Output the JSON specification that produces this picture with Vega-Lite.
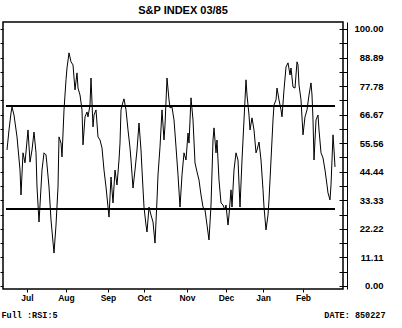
{
  "$schema": "https://vega.github.io/schema/vega-lite/v6.json",
  "width": 340,
  "height": 267,
  "autosize": "none",
  "padding": {"left": 3, "top": 22, "right": 59, "bottom": 39},
  "background": "white",
  "title": {"text": "S&P INDEX  03/85", "anchor": "middle", "dx": 10, "offset": 6, "fontSize": 11, "fontWeight": "bold", "font": "Liberation Sans", "color": "black"},
  "config": {
    "view": {"stroke": "black", "strokeWidth": 1.5},
    "axis": {"grid": false, "domainColor": "black", "tickColor": "black", "labelColor": "black", "titleColor": "black", "labelFont": "Liberation Sans", "titleFont": "Liberation Mono", "labelFontWeight": "bold", "titleFontWeight": "bold"}
  },
  "datasets": {
    "rsi": [
      {"day":0,"rsi":52.9},{"day":1,"rsi":60.7},{"day":2,"rsi":67.3},{"day":2.5,"rsi":69.6},{"day":3.5,"rsi":66.5},{"day":5,"rsi":58.0},{"day":6.5,"rsi":45.1},{"day":7,"rsi":35.4},{"day":8,"rsi":51.8},{"day":9,"rsi":47.9},{"day":10.5,"rsi":60.7},{"day":11.5,"rsi":48.2},{"day":12.5,"rsi":52.9},{"day":13.5,"rsi":59.9},{"day":14.5,"rsi":51.8},{"day":15,"rsi":38.5},{"day":16,"rsi":24.9},{"day":16.5,"rsi":31.5},{"day":17.5,"rsi":45.1},{"day":18.5,"rsi":51.8},{"day":19.5,"rsi":51.0},{"day":20,"rsi":47.1},{"day":21,"rsi":38.5},{"day":22,"rsi":25.7},{"day":23.5,"rsi":12.8},{"day":24.5,"rsi":23.7},{"day":25.5,"rsi":38.5},{"day":26,"rsi":58.0},{"day":27,"rsi":55.6},{"day":27.5,"rsi":50.2},{"day":28.5,"rsi":68.5},{"day":29.5,"rsi":80.2},{"day":30,"rsi":84.8},{"day":31,"rsi":90.7},{"day":32,"rsi":87.2},{"day":33,"rsi":86.0},{"day":34,"rsi":76.3},{"day":35,"rsi":82.9},{"day":35.5,"rsi":77.0},{"day":36.5,"rsi":74.3},{"day":37.5,"rsi":68.5},{"day":38,"rsi":54.9},{"day":39,"rsi":65.8},{"day":40,"rsi":67.7},{"day":40.5,"rsi":65.8},{"day":41.5,"rsi":70.4},{"day":42,"rsi":80.9},{"day":43,"rsi":61.9},{"day":43.5,"rsi":66.5},{"day":44.5,"rsi":68.5},{"day":45.5,"rsi":58.0},{"day":46.5,"rsi":56.8},{"day":47.5,"rsi":53.7},{"day":48.5,"rsi":45.1},{"day":49.5,"rsi":38.5},{"day":50.5,"rsi":30.7},{"day":51,"rsi":26.8},{"day":52,"rsi":42.4},{"day":53,"rsi":32.3},{"day":54,"rsi":45.1},{"day":55,"rsi":39.3},{"day":56,"rsi":49.0},{"day":56.5,"rsi":55.6},{"day":57,"rsi":68.5},{"day":58,"rsi":71.6},{"day":58.5,"rsi":72.8},{"day":59.5,"rsi":68.5},{"day":60.5,"rsi":60.7},{"day":61.5,"rsi":53.7},{"day":62,"rsi":49.0},{"day":63,"rsi":38.1},{"day":64,"rsi":45.1},{"day":65,"rsi":52.9},{"day":66,"rsi":63.4},{"day":67,"rsi":52.9},{"day":67.5,"rsi":45.1},{"day":68.5,"rsi":30.7},{"day":69.5,"rsi":23.7},{"day":70,"rsi":21.0},{"day":71,"rsi":30.7},{"day":72,"rsi":27.6},{"day":73,"rsi":24.9},{"day":74,"rsi":16.7},{"day":75,"rsi":33.5},{"day":75.5,"rsi":43.2},{"day":76.5,"rsi":54.1},{"day":77.5,"rsi":68.5},{"day":78.5,"rsi":56.8},{"day":79,"rsi":62.6},{"day":80,"rsi":80.9},{"day":81,"rsi":72.4},{"day":81.5,"rsi":69.3},{"day":82.5,"rsi":69.6},{"day":83.5,"rsi":64.6},{"day":84.5,"rsi":54.1},{"day":85.5,"rsi":43.2},{"day":86.5,"rsi":30.7},{"day":87.5,"rsi":43.2},{"day":88.5,"rsi":51.8},{"day":89.5,"rsi":49.0},{"day":90.5,"rsi":59.5},{"day":91,"rsi":55.6},{"day":92,"rsi":73.2},{"day":93,"rsi":64.6},{"day":94,"rsi":47.9},{"day":95,"rsi":44.4},{"day":96,"rsi":41.2},{"day":97,"rsi":35.4},{"day":98,"rsi":30.7},{"day":99,"rsi":29.6},{"day":100,"rsi":23.7},{"day":101,"rsi":17.9},{"day":102,"rsi":31.5},{"day":103,"rsi":56.8},{"day":103.5,"rsi":61.5},{"day":104.5,"rsi":51.8},{"day":105,"rsi":56.8},{"day":106,"rsi":41.2},{"day":107,"rsi":32.3},{"day":108,"rsi":31.5},{"day":109,"rsi":29.6},{"day":109.5,"rsi":31.5},{"day":110.5,"rsi":23.7},{"day":111,"rsi":27.6},{"day":112,"rsi":37.4},{"day":112.5,"rsi":30.7},{"day":113.5,"rsi":45.1},{"day":114.5,"rsi":51.8},{"day":115.5,"rsi":49.0},{"day":116.5,"rsi":30.7},{"day":117.5,"rsi":49.0},{"day":118.5,"rsi":64.6},{"day":119.5,"rsi":80.2},{"day":120,"rsi":74.3},{"day":121,"rsi":66.5},{"day":121.5,"rsi":60.7},{"day":122.5,"rsi":65.4},{"day":123.5,"rsi":60.7},{"day":124.5,"rsi":51.8},{"day":125,"rsi":52.9},{"day":126,"rsi":56.0},{"day":127,"rsi":49.0},{"day":128,"rsi":37.4},{"day":128.5,"rsi":30.7},{"day":129.5,"rsi":21.8},{"day":130.5,"rsi":27.6},{"day":131,"rsi":33.5},{"day":132,"rsi":49.0},{"day":133,"rsi":64.6},{"day":133.5,"rsi":70.4},{"day":134.5,"rsi":72.4},{"day":135,"rsi":77.0},{"day":136,"rsi":72.4},{"day":137,"rsi":68.5},{"day":137.5,"rsi":65.8},{"day":138.5,"rsi":76.3},{"day":139.5,"rsi":85.2},{"day":140.5,"rsi":86.8},{"day":141.5,"rsi":82.1},{"day":142,"rsi":84.8},{"day":143,"rsi":77.4},{"day":144,"rsi":77.0},{"day":145,"rsi":87.2},{"day":145.5,"rsi":86.0},{"day":146,"rsi":78.2},{"day":147,"rsi":72.4},{"day":148,"rsi":58.8},{"day":149,"rsi":65.8},{"day":150,"rsi":68.5},{"day":151,"rsi":74.3},{"day":152,"rsi":79.0},{"day":152.5,"rsi":74.3},{"day":153,"rsi":64.6},{"day":153.5,"rsi":49.0},{"day":154.5,"rsi":64.6},{"day":155.5,"rsi":66.5},{"day":156,"rsi":60.7},{"day":157,"rsi":51.8},{"day":158,"rsi":49.8},{"day":159,"rsi":45.1},{"day":160,"rsi":39.3},{"day":160.5,"rsi":36.2},{"day":161.5,"rsi":33.5},{"day":162,"rsi":39.3},{"day":163,"rsi":58.8},{"day":163.5,"rsi":52.9},{"day":164,"rsi":46.3}
    ],
    "levels": [{"level": 70}, {"level": 30}]
  },
  "layer": [
    {
      "data": {"name": "levels"},
      "mark": {"type": "rule", "color": "black", "strokeWidth": 2},
      "encoding": {
        "x": {"datum": -0.5, "type": "quantitative", "scale": {"domain": [-2, 168], "nice": false, "zero": false}},
        "x2": {"datum": 164},
        "y": {
          "field": "level", "type": "quantitative",
          "scale": {"domain": [-1.17, 102.7], "nice": false, "zero": false},
          "axis": {
            "orient": "left", "domain": false, "labels": false, "tickSize": 3,
            "values": [0, 5.5556, 11.1111, 16.6667, 22.2222, 27.7778, 33.3333, 38.8889, 44.4444, 50, 55.5556, 61.1111, 66.6667, 72.2222, 77.7778, 83.3333, 88.8889, 94.4444, 100],
            "title": "Full :RSI:5", "titleAngle": 0, "titleAlign": "left", "titleBaseline": "alphabetic", "titleX": -2, "titleY": 295, "titleFontSize": 8.5
          }
        }
      }
    },
    {
      "data": {"name": "rsi"},
      "mark": {"type": "line", "color": "black", "strokeWidth": 1},
      "encoding": {
        "x": {
          "field": "day", "type": "quantitative",
          "scale": {"domain": [-2, 168], "nice": false, "zero": false},
          "axis": {
            "orient": "bottom", "domain": false, "tickSize": 3, "labelPadding": 1, "labelFontSize": 8.5,
            "values": [10, 29.5, 50.5, 68.5, 90, 109.5, 128, 148],
            "labelExpr": "datum.value < 20 ? 'Jul' : datum.value < 40 ? 'Aug' : datum.value < 60 ? 'Sep' : datum.value < 80 ? 'Oct' : datum.value < 100 ? 'Nov' : datum.value < 120 ? 'Dec' : datum.value < 140 ? 'Jan' : 'Feb'",
            "title": null
          }
        },
        "y": {
          "field": "rsi", "type": "quantitative",
          "scale": {"domain": [-1.17, 102.7], "nice": false, "zero": false},
          "axis": {
            "orient": "right", "offset": 4, "domain": true, "tickSize": -8,
            "values": [0, 5.5556, 11.1111, 16.6667, 22.2222, 27.7778, 33.3333, 38.8889, 44.4444, 50, 55.5556, 61.1111, 66.6667, 72.2222, 77.7778, 83.3333, 88.8889, 94.4444, 100],
            "labelExpr": "round(datum.value / 5.5556) % 2 == 0 ? format(datum.value, '.2f') : ''",
            "labelOverlap": false, "labelAlign": "right", "labelPadding": 44, "labelFontSize": 9.5,
            "title": "DATE: 850227", "titleAngle": 0, "titleAlign": "right", "titleBaseline": "alphabetic", "titleX": 38, "titleY": 295, "titleFontSize": 8.5
          }
        }
      }
    }
  ],
  "resolve": {"axis": {"y": "independent"}}
}
